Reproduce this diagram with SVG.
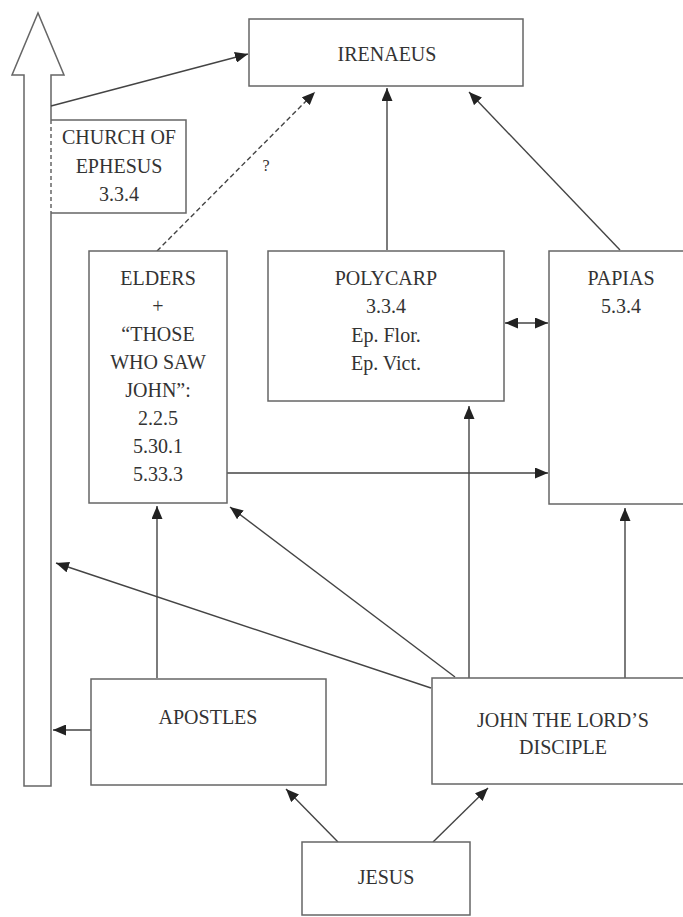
<svg xmlns="http://www.w3.org/2000/svg" width="683" height="917" viewBox="0 0 683 917">
<style>
.box{fill:#fff;stroke:#666;stroke-width:1.5}
.t{font-family:"Liberation Serif",serif;font-size:20px;fill:#333;text-anchor:middle}
.c{fill:none;stroke:#444;stroke-width:1.4}
.d{stroke-dasharray:5,3}
</style>
<defs>
<marker id="ah" markerUnits="userSpaceOnUse" markerWidth="13" markerHeight="11" refX="13" refY="5.5" orient="auto-start-reverse">
<path d="M0,0 L13,5.5 L0,11 z" fill="#222"/>
</marker>
</defs>
<rect width="683" height="917" fill="#fff"/>

<g id="big-arrow">
<polygon points="24,786 24,75 12,75 38,13 64,75 51,75 51,786" fill="#fff"/>
<path d="M51,120 L51,75 L64,75 L38,13 L12,75 L24,75 L24,786 L51,786 L51,213" fill="none" stroke="#666" stroke-width="1.5"/>
</g>

<g id="connectors">
<line class="c" x1="51" y1="106" x2="248" y2="54" marker-end="url(#ah)"/>
<line class="c d" x1="157" y1="251" x2="315" y2="92" marker-end="url(#ah)"/>
<line class="c" x1="387" y1="250" x2="387" y2="88" marker-end="url(#ah)"/>
<line class="c" x1="620" y1="250" x2="469" y2="92" marker-end="url(#ah)"/>
<line class="c" x1="505" y1="323" x2="548" y2="323" marker-start="url(#ah)" marker-end="url(#ah)"/>
<line class="c" x1="227" y1="473" x2="548" y2="473" marker-end="url(#ah)"/>
<line class="c" x1="469" y1="678" x2="469" y2="406" marker-end="url(#ah)"/>
<line class="c" x1="625" y1="678" x2="625" y2="508" marker-end="url(#ah)"/>
<line class="c" x1="455" y1="677" x2="230" y2="507" marker-end="url(#ah)"/>
<line class="c" x1="431" y1="688" x2="56" y2="563" marker-end="url(#ah)"/>
<line class="c" x1="157" y1="678" x2="157" y2="506" marker-end="url(#ah)"/>
<line class="c" x1="91" y1="730" x2="53" y2="730" marker-end="url(#ah)"/>
<line class="c" x1="338" y1="842" x2="286" y2="789" marker-end="url(#ah)"/>
<line class="c" x1="433" y1="842" x2="488" y2="788" marker-end="url(#ah)"/>
<text class="t" x="266" y="171" style="font-size:16px">?</text>
</g>

<g id="irenaeus">
<rect class="box" x="249" y="19" width="274" height="67"/>
<text class="t" x="387" y="61">IRENAEUS</text>
</g>

<g id="church-of-ephesus">
<path d="M51,120 L186,120 L186,213 L51,213" fill="#fff" stroke="#666" stroke-width="1.5"/>
<line x1="51" y1="120" x2="51" y2="213" stroke="#666" stroke-width="1.5" stroke-dasharray="4,3"/>
<text class="t" x="119" y="144">CHURCH OF</text>
<text class="t" x="119" y="173">EPHESUS</text>
<text class="t" x="119" y="201">3.3.4</text>
</g>

<g id="elders">
<rect class="box" x="89" y="251" width="138" height="252"/>
<text class="t" x="158" y="285">ELDERS</text>
<text class="t" x="158" y="313">+</text>
<text class="t" x="158" y="341">“THOSE</text>
<text class="t" x="158" y="369">WHO SAW</text>
<text class="t" x="158" y="397">JOHN”:</text>
<text class="t" x="158" y="425">2.2.5</text>
<text class="t" x="158" y="453">5.30.1</text>
<text class="t" x="158" y="481">5.33.3</text>
</g>

<g id="polycarp">
<rect class="box" x="268" y="251" width="236" height="150"/>
<text class="t" x="386" y="285">POLYCARP</text>
<text class="t" x="386" y="313">3.3.4</text>
<text class="t" x="386" y="342">Ep. Flor.</text>
<text class="t" x="386" y="370">Ep. Vict.</text>
</g>

<g id="papias">
<rect class="box" x="549" y="251" width="145" height="253"/>
<text class="t" x="621" y="285">PAPIAS</text>
<text class="t" x="621" y="313">5.3.4</text>
</g>

<g id="apostles">
<rect class="box" x="91" y="679" width="235" height="106"/>
<text class="t" x="208" y="724">APOSTLES</text>
</g>

<g id="john">
<rect class="box" x="432" y="678" width="262" height="106"/>
<text class="t" x="563" y="727">JOHN THE LORD’S</text>
<text class="t" x="563" y="754">DISCIPLE</text>
</g>

<g id="jesus">
<rect class="box" x="302" y="842" width="168" height="73"/>
<text class="t" x="386" y="884">JESUS</text>
</g>
</svg>
